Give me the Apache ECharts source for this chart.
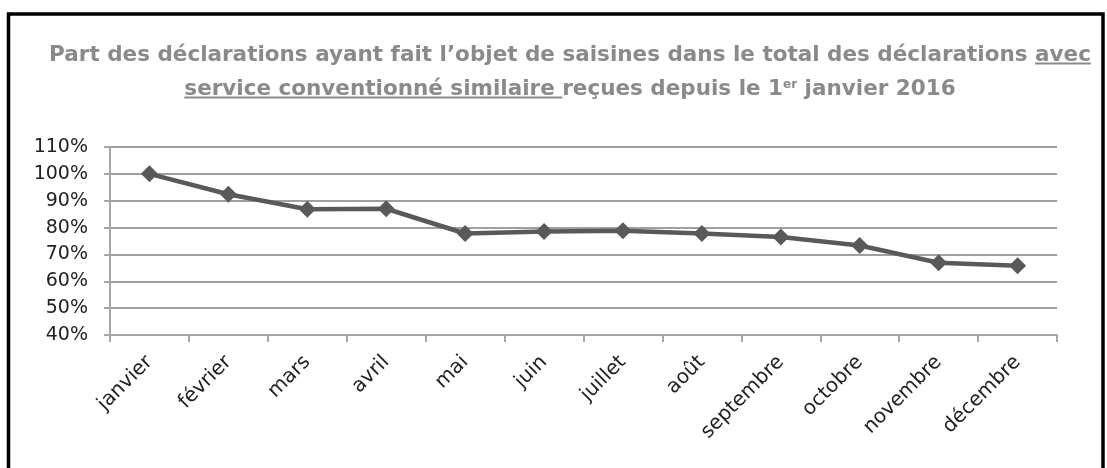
<!DOCTYPE html>
<html><head><meta charset="utf-8">
<script src="https://cdn.jsdelivr.net/npm/echarts@6/dist/echarts.min.js"></script>
<style>html,body{margin:0;padding:0;background:#fff}#c{width:1107px;height:468px}</style>
</head><body><div id="c"></div>
<script>
const months = ['janvier','février','mars','avril','mai','juin','juillet','août','septembre','octobre','novembre','décembre'];
const shares = [100, 92.4, 86.8, 87, 77.8, 78.5, 78.8, 77.8, 76.5, 73.3, 66.9, 65.8];
const yTicks = [40, 110, 10];
const titleLine1 = [
  {t:'Part des déclarations ayant fait l’objet de saisines dans le total des déclarations ', u:false},
  {t:'avec', u:true}
];
const titleLine2 = [
  {t:'service conventionné similaire ', u:true},
  {t:'reçues depuis le 1', u:false},
  {t:'er', u:false, sup:true},
  {t:' janvier 2016', u:false}
];

const titleColor = '#8a8a8a';
const FS = 21.5, FSUP = 12, FF = '"DejaVu Sans"';
const cv = document.createElement('canvas').getContext('2d');
function w(t, fs){ cv.font = 'bold ' + fs + 'px ' + FF; return cv.measureText(t).width; }

function buildLine(parts, cx, baseY){
  const widths = parts.map(p => w(p.t, p.sup ? FSUP : FS));
  const total = widths.reduce((a,b)=>a+b,0);
  let x = cx - total/2;
  const els = [];
  parts.forEach((p,i)=>{
    const fs = p.sup ? FSUP : FS;
    els.push({type:'text', x:x, y: p.sup ? baseY - 9 : baseY, silent:true,
      style:{text:p.t, font:'bold ' + fs + 'px ' + FF, fill:titleColor, align:'left', verticalAlign:'bottom'}});
    if (p.u) els.push({type:'line', silent:true, shape:{x1:x, y1:baseY-2.5, x2:x+widths[i], y2:baseY-2.5}, style:{stroke:titleColor, lineWidth:2}});
    x += widths[i];
  });
  return els;
}

const chart = echarts.init(document.getElementById('c'), null, {renderer:'canvas'});
chart.setOption({
  animation:false,
  graphic:[
    {type:'rect', silent:true, shape:{x:8.5,y:14,width:1094.5,height:470}, style:{fill:'none', stroke:'#000', lineWidth:3.5}},
    ...buildLine(titleLine1, 570, 66),
    ...buildLine(titleLine2, 570, 100)
  ],
  grid:{left:110, right:50, top:147, bottom:133},
  xAxis:{
    type:'category', data:months, boundaryGap:true,
    axisLine:{lineStyle:{color:'#a6a6a6', width:2}},
    axisTick:{show:true, interval:0, length:7, lineStyle:{color:'#a6a6a6', width:2}},
    axisLabel:{interval:0, rotate:45, fontFamily:'DejaVu Sans', fontSize:20, color:'#222', margin:24}
  },
  yAxis:{
    type:'value', min:yTicks[0], max:yTicks[1], interval:yTicks[2],
    axisLine:{show:true, lineStyle:{color:'#a6a6a6', width:2}},
    axisTick:{show:true, length:6, lineStyle:{color:'#a6a6a6', width:2}},
    splitLine:{lineStyle:{color:'#a0a0a0', width:2}},
    axisLabel:{formatter:v=>v+'%', fontFamily:'DejaVu Sans', fontSize:19, color:'#222', margin:22}
  },
  series:[{
    type:'line', data:shares,
    symbol:'diamond', symbolSize:17,
    lineStyle:{color:'#595959', width:4.5},
    itemStyle:{color:'#595959'}
  }]
});
</script></body></html>
